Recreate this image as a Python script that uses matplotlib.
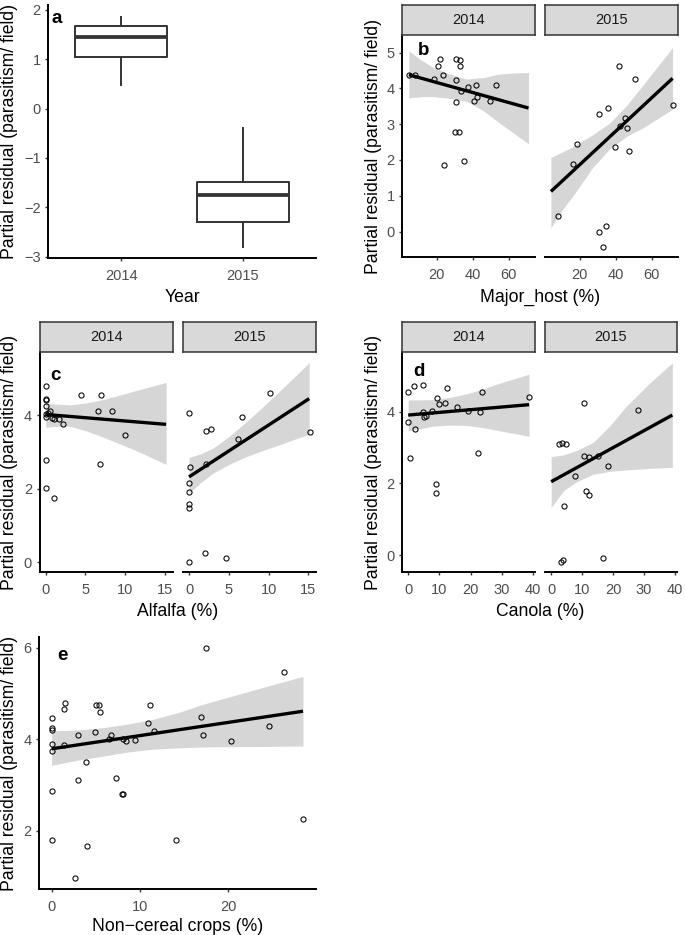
import matplotlib
matplotlib.use("Agg")
import matplotlib.pyplot as plt

# ---------------------------------------------------------------
# datos
# ---------------------------------------------------------------

# panel a: boxplot por año
years = ["2014", "2015"]
box_whislo = [0.48, -2.80]
box_q1 = [1.05, -2.31]
box_med = [1.46, -1.75]
box_q3 = [1.68, -1.49]
box_whishi = [1.86, -0.40]

# panel b: Major_host
b14_x = [4.4, 8.1, 18.2, 20.6, 21.8, 23.3, 24.0, 30.6, 32.8, 32.8, 30.6,
         33.6, 30.8, 30.3, 32.1, 35.0, 37.4, 41.5, 40.7, 42.6, 49.4, 52.8]
b14_y = [4.36, 4.38, 4.26, 4.63, 4.81, 4.37, 1.86, 4.82, 4.80, 4.63, 4.24,
         3.92, 3.61, 2.79, 2.77, 1.96, 4.03, 4.09, 3.66, 3.77, 3.66, 4.10]
b14_fit_x = [4.4, 71.0]
b14_fit_y = [4.38, 3.45]
b14_ci_x = [4.4, 11.0, 18.1, 27.0, 36.5, 45.7, 54.9, 63.0, 71.0]
b14_ci_lo = [3.73, 3.77, 3.77, 3.72, 3.64, 3.38, 3.03, 2.74, 2.45]
b14_ci_hi = [5.05, 4.80, 4.58, 4.40, 4.26, 4.30, 4.40, 4.43, 4.44]

b15_x = [8.1, 16.1, 18.5, 30.4, 35.8, 42.0, 50.9, 71.6, 45.0, 42.5, 46.1,
         39.6, 47.4, 30.4, 34.5, 33.0]
b15_y = [0.44, 1.89, 2.45, 3.28, 3.45, 4.62, 4.27, 3.53, 3.17, 2.96, 2.90,
         2.37, 2.25, 0.0, 0.16, -0.43]
b15_fit_x = [3.9, 71.6]
b15_fit_y = [1.12, 4.28]
b15_ci_x = [3.9, 10.9, 17.9, 27.0, 36.6, 46.0, 55.2, 63.4, 71.6]
b15_ci_lo = [0.11, 0.65, 1.12, 1.78, 2.31, 2.66, 2.90, 3.16, 3.42]
b15_ci_hi = [2.07, 2.24, 2.42, 2.70, 3.03, 3.52, 4.10, 4.62, 5.14]

# panel c: Alfalfa
c14_x = [0, 0, 0.04, 0, 0, 0, 0.3, 0.5, 0.8, 1.08, 1.7, 2.2, 4.4, 6.9,
         6.6, 8.3, 9.9, 6.8, 0, 0, 1.08]
c14_y = [4.79, 4.45, 4.41, 4.24, 4.03, 3.96, 4.07, 4.10, 3.92, 3.89, 3.90,
         3.75, 4.56, 4.56, 4.12, 4.10, 3.45, 2.67, 2.77, 2.01, 1.74]
c14_fit_x = [0, 15.1]
c14_fit_y = [4.02, 3.75]
c14_ci_x = [0, 1.5, 3.0, 5.0, 7.1, 9.2, 11.3, 13.2, 15.1]
c14_ci_lo = [3.67, 3.70, 3.70, 3.58, 3.41, 3.23, 3.04, 2.85, 2.66]
c14_ci_hi = [4.32, 4.30, 4.28, 4.33, 4.42, 4.54, 4.67, 4.78, 4.89]

c15_x = [0, 0.15, 0, 0, 0, 0, 0, 2.0, 4.7, 2.1, 2.7, 2.1, 6.2, 6.7,
         10.2, 15.2]
c15_y = [4.05, 2.58, 2.14, 1.92, 1.57, 1.48, -0.01, 0.24, 0.10, 3.58, 3.63,
         2.66, 3.34, 3.95, 4.61, 3.55]
c15_fit_x = [0, 15.1]
c15_fit_y = [2.32, 4.45]
c15_ci_x = [0, 1.5, 3.0, 5.1, 7.2, 9.3, 11.3, 13.2, 15.1]
c15_ci_lo = [1.87, 2.17, 2.42, 2.67, 2.87, 3.04, 3.19, 3.34, 3.48]
c15_ci_hi = [2.85, 2.95, 3.10, 3.43, 3.82, 4.23, 4.64, 5.03, 5.43]

# panel d: Canola
d14_x = [0, 2.0, 4.6, 9.1, 12.3, 9.9, 11.7, 4.6, 5.0, 5.7, 7.5, 15.7, 19.1,
         22.9, 23.5, 22.3, 38.7, 0, 2.1, 0.5, 8.9, 8.9]
d14_y = [4.54, 4.73, 4.75, 4.38, 4.67, 4.21, 4.24, 3.99, 3.85, 3.89, 4.02,
         4.13, 4.01, 3.99, 4.54, 2.84, 4.42, 3.71, 3.52, 2.70, 1.98, 1.73]
d14_fit_x = [0, 38.7]
d14_fit_y = [3.91, 4.20]
d14_ci_x = [0, 8.0, 13.0, 18.7, 24.0, 29.3, 38.7]
d14_ci_lo = [3.47, 3.60, 3.63, 3.62, 3.56, 3.47, 3.32]
d14_ci_hi = [4.33, 4.34, 4.40, 4.50, 4.64, 4.80, 5.05]

d15_x = [10.6, 28.1, 2.5, 3.5, 4.8, 10.6, 12.3, 15.0, 18.2, 7.8, 11.3, 12.2,
         4.2, 3.7, 3.1, 16.6]
d15_y = [4.25, 4.04, 3.09, 3.12, 3.09, 2.76, 2.73, 2.77, 2.49, 2.21, 1.80,
         1.69, 1.38, -0.14, -0.20, -0.07]
d15_fit_x = [0, 39.1]
d15_fit_y = [2.05, 3.91]
d15_ci_x = [0, 4.0, 8.2, 13.6, 19.0, 24.3, 31.5, 39.1]
d15_ci_lo = [1.33, 1.80, 2.05, 2.26, 2.34, 2.38, 2.42, 2.45]
d15_ci_hi = [2.75, 2.80, 2.92, 3.15, 3.62, 4.16, 4.78, 5.37]

# panel e: Non-cereal crops
e_x = [0, 0, 0, 0, 0, 0, 0, 1.36, 1.43, 1.54, 2.64, 3.0, 2.98, 3.92, 4.0,
       4.87, 5.0, 5.4, 5.5, 6.45, 6.75, 7.25, 8.0, 8.08, 8.1, 8.45, 9.43,
       10.87, 11.1, 11.55, 14.08, 16.87, 17.17, 17.44, 20.34, 24.6, 26.3, 28.43]
e_y = [4.46, 4.25, 4.19, 3.90, 3.74, 2.87, 1.81, 3.87, 4.66, 4.78, 0.97,
       4.10, 3.10, 3.50, 1.67, 4.16, 4.75, 4.75, 4.60, 4.01, 4.10, 3.15, 2.81,
       2.80, 4.0, 3.95, 3.99, 4.35, 4.74, 4.18, 1.81, 4.49, 4.09, 6.0, 3.95,
       4.28, 5.47, 2.26]
e_fit_x = [0, 28.43]
e_fit_y = [3.79, 4.61]
e_ci_x = [0, 2.9, 5.8, 8.6, 11.4, 14.3, 17.1, 22.8, 28.43]
e_ci_lo = [3.43, 3.54, 3.63, 3.72, 3.78, 3.81, 3.83, 3.84, 3.85]
e_ci_hi = [4.18, 4.20, 4.25, 4.33, 4.43, 4.58, 4.76, 5.07, 5.37]

YLAB = "Partial residual (parasitism/ field)"

# ---------------------------------------------------------------
W, H = 685, 935
plt.rcParams["font.family"] = ["Liberation Sans", "DejaVu Sans"]
fig = plt.figure(figsize=(W / 100, H / 100), dpi=100)


def px_axes(x0, y0, x1, y1):
    # caja en pixeles (origen arriba a la izquierda)
    return fig.add_axes([x0 / W, 1 - y1 / H, (x1 - x0) / W, (y1 - y0) / H])


def style_axes(ax, show_y=True):
    for s in ["top", "right"]:
        ax.spines[s].set_visible(False)
    ax.spines["bottom"].set_linewidth(1.4)
    ax.spines["left"].set_linewidth(1.4)
    ax.spines["left"].set_visible(show_y)
    ax.set_facecolor("none")
    ax.tick_params(axis="both", length=2.4, width=1.0, color="#333333",
                   labelcolor="#4D4D4D", labelsize=10.5)
    ax.tick_params(axis="x", pad=5.5)
    ax.tick_params(axis="y", pad=3.0)
    if not show_y:
        ax.tick_params(axis="y", left=False, labelleft=False)


def strip(x0, y0, x1, y1, label):
    s = px_axes(x0, y0, x1, y1)
    s.set_facecolor("#D9D9D9")
    for sp in s.spines.values():
        sp.set_color("#333333")
        sp.set_linewidth(1.1)
    s.set_xticks([])
    s.set_yticks([])
    s.text(0.5, 0.5, label, ha="center", va="center", fontsize=10.5,
           color="#1A1A1A", transform=s.transAxes)


def facet(ax, px, py, fx, fy, cx, clo, chi):
    ax.fill_between(cx, clo, chi, color="#D6D6D6", lw=0, zorder=1)
    ax.plot(px, py, "o", ms=3.7, mfc="none", mec="black", mew=0.75, zorder=2)
    ax.plot(fx, fy, color="black", lw=2.4, solid_capstyle="butt", zorder=3)


def ylab(x, y, text=YLAB):
    fig.text(x / W, 1 - y / H, text, rotation=90, ha="center", va="center",
             fontsize=12.7)


def xlab(x, y, text):
    fig.text(x / W, 1 - y / H, text, ha="center", va="baseline", fontsize=12.7)


def letter(x, y, text):
    fig.text(x / W, 1 - y / H, text, ha="left", va="baseline", fontsize=13.5,
             fontweight="bold")


# ---------------- panel a ----------------
ax = px_axes(48, 5, 316, 258)
stats = []
for i in range(len(years)):
    stats.append({"med": box_med[i], "q1": box_q1[i], "q3": box_q3[i],
                  "whislo": box_whislo[i], "whishi": box_whishi[i],
                  "fliers": []})
ax.bxp(stats, positions=[1, 2], widths=0.75, showcaps=False,
       boxprops=dict(color="#333333", lw=1.4),
       whiskerprops=dict(color="#333333", lw=1.4),
       medianprops=dict(color="#333333", lw=2.7))
ax.set_xlim(0.4, 2.6)
ax.set_ylim(-3.03, 2.10)
ax.set_xticks([1, 2])
ax.set_xticklabels(years)
ax.set_yticks([-3, -2, -1, 0, 1, 2])
style_axes(ax)
ylab(10, 131.5)
xlab(182, 302, "Year")
letter(51, 23, "a")

# ---------------- panel b ----------------
b_xlim = (0.6, 74.6)
b_ylim = (-0.71, 5.49)
ax = px_axes(402, 35, 535, 257)
facet(ax, b14_x, b14_y, b14_fit_x, b14_fit_y, b14_ci_x, b14_ci_lo, b14_ci_hi)
ax.set_xlim(b_xlim); ax.set_ylim(b_ylim)
ax.set_xticks([20, 40, 60]); ax.set_yticks([0, 1, 2, 3, 4, 5])
style_axes(ax)
ax = px_axes(545, 35, 678, 257)
facet(ax, b15_x, b15_y, b15_fit_x, b15_fit_y, b15_ci_x, b15_ci_lo, b15_ci_hi)
ax.set_xlim(b_xlim); ax.set_ylim(b_ylim)
ax.set_xticks([20, 40, 60]); ax.set_yticks([0, 1, 2, 3, 4, 5])
style_axes(ax, show_y=False)
strip(402, 5, 535, 35, "2014")
strip(545, 5, 678, 35, "2015")
ylab(373, 146)
xlab(540, 302, "Major_host (%)")
letter(418, 55, "b")

# ---------------- panel c ----------------
c_xlim = (-0.76, 15.96)
c_ylim = (-0.27, 5.72)
ax = px_axes(39.5, 352, 173, 572)
facet(ax, c14_x, c14_y, c14_fit_x, c14_fit_y, c14_ci_x, c14_ci_lo, c14_ci_hi)
ax.set_xlim(c_xlim); ax.set_ylim(c_ylim)
ax.set_xticks([0, 5, 10, 15]); ax.set_yticks([0, 2, 4])
style_axes(ax)
ax = px_axes(183, 352, 316, 572)
facet(ax, c15_x, c15_y, c15_fit_x, c15_fit_y, c15_ci_x, c15_ci_lo, c15_ci_hi)
ax.set_xlim(c_xlim); ax.set_ylim(c_ylim)
ax.set_xticks([0, 5, 10, 15]); ax.set_yticks([0, 2, 4])
style_axes(ax, show_y=False)
strip(39.5, 322, 173, 352, "2014")
strip(183, 322, 316, 352, "2015")
ylab(10, 462)
xlab(178, 616, "Alfalfa (%)")
letter(50, 380, "c")

# ---------------- panel d ----------------
d_xlim = (-1.98, 40.6)
d_ylim = (-0.47, 5.67)
ax = px_axes(402, 352, 535, 572)
facet(ax, d14_x, d14_y, d14_fit_x, d14_fit_y, d14_ci_x, d14_ci_lo, d14_ci_hi)
ax.set_xlim(d_xlim); ax.set_ylim(d_ylim)
ax.set_xticks([0, 10, 20, 30, 40]); ax.set_yticks([0, 2, 4])
style_axes(ax)
ax = px_axes(545, 352, 677, 572)
facet(ax, d15_x, d15_y, d15_fit_x, d15_fit_y, d15_ci_x, d15_ci_lo, d15_ci_hi)
ax.set_xlim(d_xlim); ax.set_ylim(d_ylim)
ax.set_xticks([0, 10, 20, 30, 40]); ax.set_yticks([0, 2, 4])
style_axes(ax, show_y=False)
strip(402, 322, 535, 352, "2014")
strip(545, 322, 677, 352, "2015")
ylab(373, 462)
xlab(540, 616, "Canola (%)")
letter(413, 376, "d")

# ---------------- panel e ----------------
ax = px_axes(39, 637, 316, 889)
facet(ax, e_x, e_y, e_fit_x, e_fit_y, e_ci_x, e_ci_lo, e_ci_hi)
ax.set_xlim(-1.43, 29.9)
ax.set_ylim(0.73, 6.23)
ax.set_xticks([0, 10, 20]); ax.set_yticks([2, 4, 6])
style_axes(ax)
ylab(10, 763)
xlab(178, 931, "Non\u2212cereal crops (%)")
letter(57, 660, "e")

fig.savefig("out.png", dpi=100)
